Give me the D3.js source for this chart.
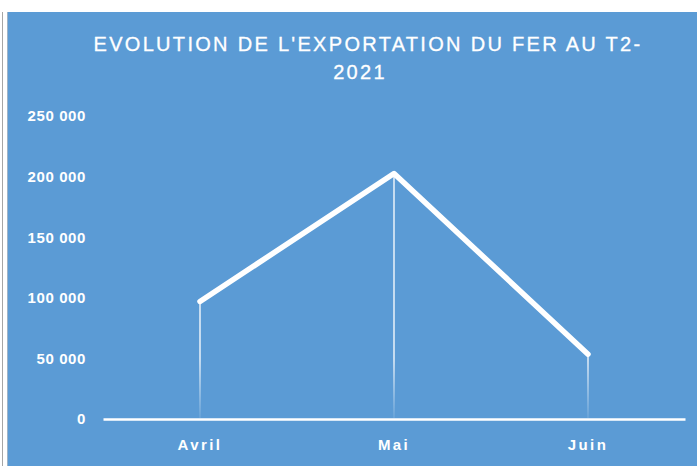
<!DOCTYPE html>
<html>
<head>
<meta charset="utf-8">
<script src="https://cdn.jsdelivr.net/npm/d3@7"></script>
<style>
    html, body { margin: 0; padding: 0; background: #fff; }
    svg { display: block; }
</style>
</head>
<body>
<div id="chart"></div>
<script>
// données de la figure
const months = ['Avril', 'Mai', 'Juin'];
const exportValues = [97000, 202500, 53500];
const yTicks = [0, 50000, 100000, 150000, 200000, 250000];
const titleLines = ["EVOLUTION DE L'EXPORTATION DU FER AU T2-", '2021'];

const width = 697;
const height = 466;
const blue = '#5b9bd5';

const svg = d3.select('#chart')
    .append('svg')
    .attr('width', width)
    .attr('height', height);

// fond : bande blanche en haut, cadre bleu
svg.append('rect').attr('width', width).attr('height', height).attr('fill', '#fff');
svg.append('rect')
    .attr('x', 8).attr('y', 12)
    .attr('width', width - 8).attr('height', height - 12)
    .attr('fill', blue);
svg.append('line')
    .attr('x1', 7.5).attr('x2', 7.5).attr('y1', 12).attr('y2', height)
    .attr('stroke', '#9fb4c8').attr('stroke-width', 1);
svg.append('line')
    .attr('x1', 2.5).attr('x2', 2.5).attr('y1', 12).attr('y2', height)
    .attr('stroke', '#a6a6a6').attr('stroke-width', 1);

// titre (la 2e ligne est un peu décalée à gauche comme dans l'original)
svg.append('g')
    .selectAll('text')
    .data(titleLines)
    .enter().append('text')
    .attr('x', (d, i) => i === 0 ? 368 : 360)
    .attr('y', (d, i) => 51 + i * 28)
    .attr('text-anchor', 'middle')
    .attr('fill', '#fff')
    .attr('stroke', '#fff')
    .attr('stroke-width', 0.3)
    .attr('font-family', 'Liberation Sans, Arial, sans-serif')
    .attr('font-size', '20px')
    .attr('letter-spacing', '2.3px')
    .text(d => d);

// échelles
const x = d3.scaleBand()
    .domain(months)
    .range([103, 685]);

const y = d3.scaleLinear()
    .domain([0, 250000])
    .range([419, 116]);

const fmt = v => d3.format(',')(v).replace(/,/g, ' ');

// axe des ordonnées (libellés seulement)
const yAxis = svg.append('g')
    .attr('transform', 'translate(86,0)')
    .call(d3.axisLeft(y).tickValues(yTicks).tickFormat(fmt).tickSize(0).tickPadding(0));
yAxis.select('.domain').remove();
yAxis.selectAll('text')
    .attr('fill', '#fff')
    .attr('font-family', 'Liberation Sans, Arial, sans-serif')
    .attr('font-weight', 'bold')
    .attr('font-size', '15px')
    .attr('letter-spacing', '0.6px');

// axe des abscisses
const xAxis = svg.append('g')
    .attr('transform', `translate(0,${y(0)})`)
    .call(d3.axisBottom(x).tickSize(0).tickPadding(20));
xAxis.select('.domain')
    .attr('stroke', '#fff')
    .attr('stroke-width', 2.5);
xAxis.selectAll('text')
    .attr('fill', '#fff')
    .attr('font-family', 'Liberation Sans, Arial, sans-serif')
    .attr('font-weight', 'bold')
    .attr('font-size', '15px')
    .attr('letter-spacing', '2.4px');

// dégradé des lignes de projection
const defs = svg.append('defs');
const grad = defs.append('linearGradient')
    .attr('id', 'drop-fade')
    .attr('gradientUnits', 'userSpaceOnUse')
    .attr('x1', 0).attr('x2', 0)
    .attr('y1', y(50000)).attr('y2', y(0));
grad.append('stop').attr('offset', '0%').attr('stop-color', '#fff').attr('stop-opacity', 1);
grad.append('stop').attr('offset', '100%').attr('stop-color', '#fff').attr('stop-opacity', 0.1);

const points = months.map((m, i) => ({ month: m, value: exportValues[i] }));
const cx = d => x(d.month) + x.bandwidth() / 2;

svg.append('g')
    .selectAll('line')
    .data(points)
    .enter().append('line')
    .attr('x1', cx).attr('x2', cx)
    .attr('y1', d => y(d.value)).attr('y2', y(0) - 1)
    .attr('stroke', 'url(#drop-fade)')
    .attr('stroke-width', 1.3);

// courbe
const line = d3.line()
    .x(cx)
    .y(d => y(d.value));

svg.append('path')
    .datum(points)
    .attr('d', line)
    .attr('fill', 'none')
    .attr('stroke', '#fff')
    .attr('stroke-width', 5.5)
    .attr('stroke-linejoin', 'round')
    .attr('stroke-linecap', 'round');
</script>
</body>
</html>
